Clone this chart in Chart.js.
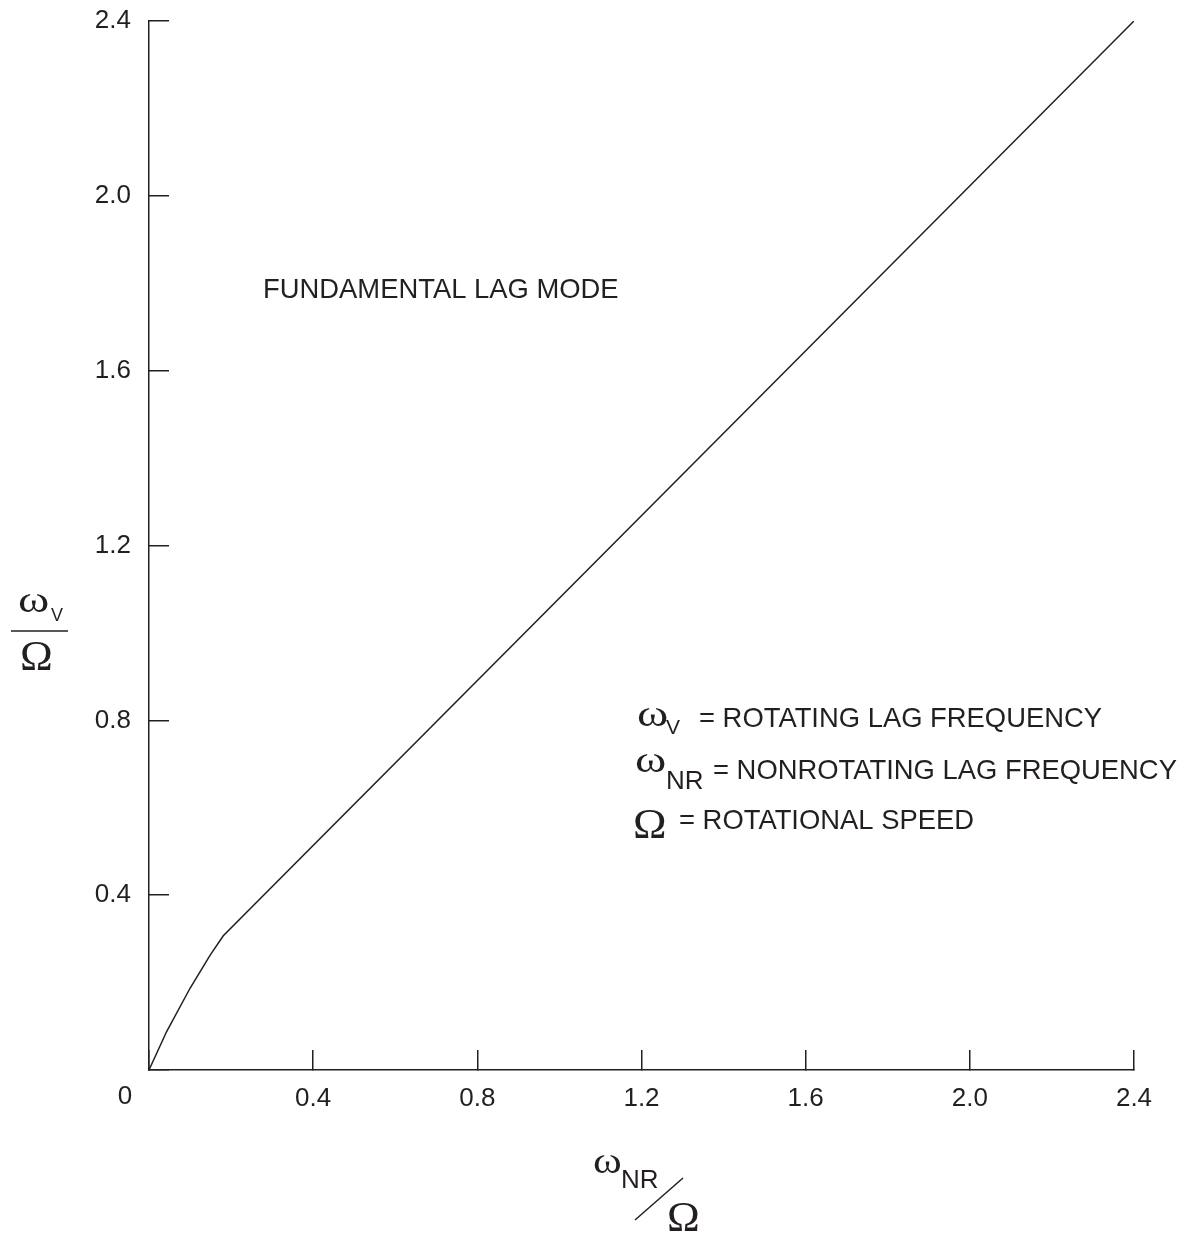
<!DOCTYPE html>
<html>
<head>
<meta charset="utf-8">
<script src="https://cdn.jsdelivr.net/npm/chart.js@4.4.1/dist/chart.umd.min.js"></script>
<style>
    html, body { margin: 0; padding: 0; background: #fff; }
    #lagChart { display: block; }
</style>
</head>
<body>
<canvas id="lagChart" width="1191" height="1235"></canvas>
<script>
// Lag frequency curve
const nonrotatingFreq = [0, 0.043, 0.100, 0.149, 0.181, 2.4];
const rotatingFreq = [0, 0.088, 0.187, 0.263, 0.307, 2.4];

// Axis ticks
const xTickValues = [0, 0.4, 0.8, 1.2, 1.6, 2.0, 2.4];
const yTickValues = [0, 0.4, 0.8, 1.2, 1.6, 2.0, 2.4];

const SANS = '"Liberation Sans", Arial, sans-serif';
const SERIF = '"Liberation Serif", "Times New Roman", serif';
const INK = '#231f20';

// Texts and symbols drawn on top of the chart
const annotationPlugin = {
    id: 'annotations',
    afterDraw(chart) {
        const ctx = chart.ctx;
        const xs = chart.scales.x;
        const ys = chart.scales.y;
        ctx.save();
        ctx.fillStyle = INK;
        ctx.strokeStyle = INK;
        ctx.textBaseline = 'alphabetic';
        ctx.textAlign = 'left';

        function txt(s, font, x, y) {
            ctx.font = font;
            ctx.fillText(s, x, y);
        }
        // greek letters are a bit wider in the original
        function greek(s, size, x, y, sx) {
            ctx.save();
            ctx.translate(x, y);
            ctx.scale(sx, 1);
            ctx.font = size + 'px ' + SERIF;
            ctx.fillText(s, 0, 0);
            ctx.restore();
        }

        // origin label
        ctx.textAlign = 'center';
        ctx.textBaseline = 'middle';
        txt('0', '26px ' + SANS, xs.getPixelForValue(0) - 24, ys.getPixelForValue(0) + 27);
        ctx.textAlign = 'left';
        ctx.textBaseline = 'alphabetic';

        txt('FUNDAMENTAL LAG MODE', '27.4px ' + SANS, 263, 298);

        // key
        greek('\u03c9', 38, 637, 726, 1.25);
        txt('V', '21px ' + SANS, 666, 734);
        txt('= ROTATING LAG FREQUENCY', '27.4px ' + SANS, 699, 727);

        greek('\u03c9', 38, 635, 772, 1.25);
        txt('NR', '26px ' + SANS, 666, 789);
        txt('= NONROTATING LAG FREQUENCY', '27.4px ' + SANS, 713, 779);

        greek('\u03a9', 43, 633, 838, 1.05);
        txt('= ROTATIONAL SPEED', '27.4px ' + SANS, 679, 829);

        // y axis title: omega_V over Omega
        greek('\u03c9', 38, 18, 612, 1.25);
        txt('V', '18px ' + SANS, 51, 621);
        ctx.lineWidth = 1.5;
        ctx.beginPath();
        ctx.moveTo(11, 631);
        ctx.lineTo(68, 631);
        ctx.stroke();
        greek('\u03a9', 42, 20, 670, 1.05);

        // x axis title: omega_NR / Omega
        greek('\u03c9', 38, 593, 1173, 1.15);
        txt('NR', '26px ' + SANS, 621, 1188);
        ctx.beginPath();
        ctx.moveTo(635, 1220);
        ctx.lineTo(683, 1178);
        ctx.stroke();
        greek('\u03a9', 42, 667, 1231, 1.05);

        ctx.restore();
    }
};

function fmtTick(v) {
    return v === 0 ? '' : v.toFixed(1);
}

new Chart(document.getElementById('lagChart'), {
    type: 'line',
    data: {
        datasets: [{
            data: nonrotatingFreq.map((x, i) => ({ x: x, y: rotatingFreq[i] })),
            borderColor: INK,
            borderWidth: 1.5,
            pointRadius: 0,
            tension: 0,
            fill: false
        }]
    },
    options: {
        responsive: false,
        animation: false,
        events: [],
        layout: {
            padding: { top: 21, right: 57, left: 0, bottom: 0 }
        },
        plugins: {
            legend: { display: false },
            tooltip: { enabled: false }
        },
        scales: {
            x: {
                type: 'linear',
                min: 0,
                max: 2.4,
                afterBuildTicks: scale => { scale.ticks = xTickValues.map(v => ({ value: v })); },
                afterFit: scale => {
                    scale.height = 165;
                    scale.paddingLeft = 0;
                    scale.paddingRight = 0;
                },
                border: { display: true, color: INK, width: 1.5 },
                grid: {
                    display: true,
                    drawOnChartArea: false,
                    drawTicks: true,
                    tickLength: -20,
                    color: INK,
                    lineWidth: 1.5
                },
                ticks: {
                    autoSkip: false,
                    maxRotation: 0,
                    padding: 33,
                    color: INK,
                    font: { family: SANS, size: 26 },
                    callback: fmtTick
                }
            },
            y: {
                type: 'linear',
                min: 0,
                max: 2.4,
                afterBuildTicks: scale => { scale.ticks = yTickValues.map(v => ({ value: v })); },
                afterFit: scale => {
                    scale.width = 149;
                    scale.paddingTop = 0;
                    scale.paddingBottom = 0;
                },
                border: { display: true, color: INK, width: 1.5 },
                grid: {
                    display: true,
                    drawOnChartArea: false,
                    drawTicks: true,
                    tickLength: -20,
                    color: INK,
                    lineWidth: 1.5
                },
                ticks: {
                    autoSkip: false,
                    padding: 38,
                    color: INK,
                    font: { family: SANS, size: 26 },
                    callback: fmtTick
                }
            }
        }
    },
    plugins: [annotationPlugin]
});
</script>
</body>
</html>
